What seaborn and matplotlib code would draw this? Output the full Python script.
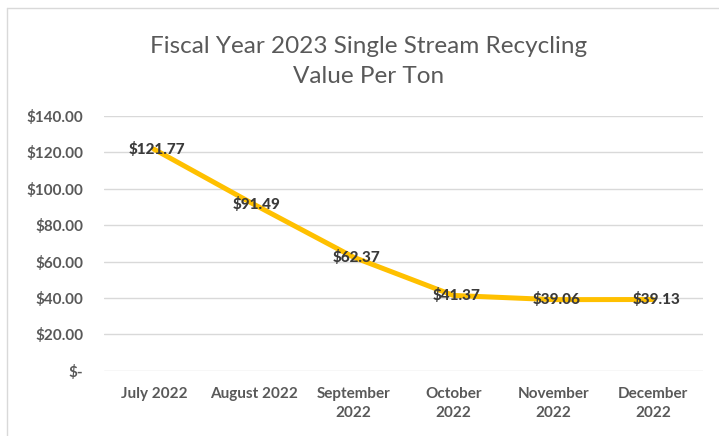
import pandas as pd
import matplotlib
matplotlib.use("Agg")
import matplotlib.pyplot as plt
import seaborn as sns
from matplotlib.lines import Line2D
from matplotlib.ticker import FuncFormatter

# Values per ton
months = ["July 2022", "August 2022", "September\n2022", "October\n2022",
          "November\n2022", "December\n2022"]
value_per_ton = [121.77, 91.49, 62.37, 41.37, 39.06, 39.13]
y_ticks = [0, 20, 40, 60, 80, 100, 120, 140]

df = pd.DataFrame({"month": months, "value": value_per_ton})

sns.set_style("white")
plt.rcParams["font.family"] = ["Lato", "DejaVu Sans"]

fig = plt.figure(figsize=(7.19, 4.36), dpi=100)
ax = fig.add_axes([104 / 719, 1 - 370.7 / 436, (703 - 104) / 719, (370.7 - 116) / 436])

x_pos = list(range(len(months)))
sns.lineplot(x=x_pos, y=df["value"], ax=ax, color="#FFC000", linewidth=3.6,
             solid_capstyle="round")

# Data labels centred on the points
for x, v in zip(x_pos, value_per_ton):
    ax.text(x + 0.03, v, f"${v:.2f}", ha="center", va="center",
            fontsize=11, fontweight="black", color="#3A3A3A")

ax.set_xlim(-0.5, len(months) - 0.5)
ax.set_ylim(0, 140)
ax.set_yticks(y_ticks)
ax.yaxis.set_major_formatter(FuncFormatter(lambda v, p: "$-" if v == 0 else f"${v:,.2f}"))
ax.set_xticks(x_pos)
ax.set_xticklabels(months, linespacing=1.45)
ax.tick_params(axis="y", length=0, pad=15, labelsize=11, labelcolor="#595959")
ax.tick_params(axis="x", length=0, pad=12, labelsize=11, labelcolor="#595959")
for lab in ax.get_xticklabels() + ax.get_yticklabels():
    lab.set_fontweight("bold")
ax.grid(axis="y", color="#D9D9D9", linewidth=1)
ax.set_axisbelow(True)
sns.despine(ax=ax, left=True, bottom=True)
ax.set_xlabel("")
ax.set_ylabel("")

fig.text(369 / 719, 1 - 61.5 / 436,
         "Fiscal Year 2023 Single Stream Recycling\nValue Per Ton",
         ha="center", va="center", fontsize=17.5, color="#595959", linespacing=1.5)

# chart area border
fig.add_artist(Line2D([7 / 719, 1], [1 - 8 / 436, 1 - 8 / 436], color="#D9D9D9", lw=1))
fig.add_artist(Line2D([7 / 719, 7 / 719], [0, 1 - 8 / 436], color="#D9D9D9", lw=1))

fig.savefig("out.png", dpi=100, facecolor="white")
